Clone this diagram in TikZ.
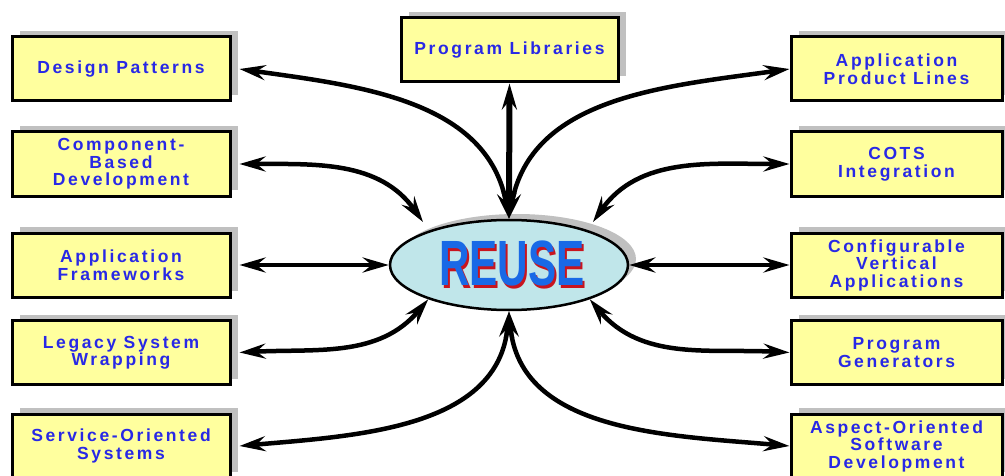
\documentclass[tikz,border=0pt]{standalone}
\usepackage{fontspec}
\setmainfont{Liberation Sans}
\newfontfamily\topicfont{Liberation Sans}[LetterSpace=15]
\usepackage{graphicx}
\usetikzlibrary{arrows.meta, positioning, calc, shadows, shapes.geometric}
\definecolor{topicyellow}{RGB}{255, 255, 158}
\definecolor{topicblue}{RGB}{40, 40, 230}
\definecolor{shadowgray}{RGB}{192, 192, 192}
\definecolor{reusefill}{RGB}{192, 230, 234}
\definecolor{reuseblue}{RGB}{25, 105, 230}
\definecolor{reusered}{RGB}{200, 20, 30}
\newcommand{\reuseword}{\scalebox{0.66}[1]{\fontsize{64}{64}\selectfont\bfseries REUSE}}
\newcommand{\reuselogo}{\makebox[0pt][l]{\hspace{2pt}\raisebox{-2.5pt}{\color{reusered}\reuseword}}\color{reuseblue}\reuseword}
\tikzset{
  topic/.style={draw, line width=3pt, fill=topicyellow, minimum height=64pt, align=center,
    text=topicblue, font=\topicfont\bfseries\fontsize{17.5}{17.5}\selectfont,
    drop shadow={shadow xshift=8pt, shadow yshift=6pt, fill=shadowgray, opacity=1}},
  link/.style={{Stealth[length=26pt, width=15pt, inset=9pt]}-{Stealth[length=26pt, width=15pt, inset=9pt]}, line width=4.5pt},
}

\begin{document}
\begin{tikzpicture}[x=1pt, y=1pt]
  \useasboundingbox (0,0) rectangle (1005,475);
  \clip (0,0) rectangle (1005,475);

  \node[topic, minimum width=218pt] (dp)   at (121,406)   {Design Patterns};
  \node[topic, minimum width=218pt] (cbd)  at (121,311)   {Component-\\Based\\Development};
  \node[topic, minimum width=218pt] (af)   at (121,210)   {Application\\Frameworks};
  \node[topic, minimum width=218pt] (lsw)  at (121,122.5) {Legacy System\\Wrapping};
  \node[topic, minimum width=218pt] (soa)  at (121,29)    {Service-Oriented\\Systems};

  \node[topic, minimum width=217pt] (pl)   at (509.5,425) {Program Libraries};

  \node[topic, minimum width=211pt] (apl)  at (896.5,406)   {Application\\Product Lines};
  \node[topic, minimum width=211pt] (cots) at (896.5,311)   {COTS\\Integration};
  \node[topic, minimum width=211pt] (cva)  at (896.5,210)   {Configurable\\Vertical\\Applications};
  \node[topic, minimum width=211pt] (pg)   at (896.5,122.5) {Program\\Generators};
  \node[topic, minimum width=211pt] (aosd) at (896.5,29)    {Aspect-Oriented\\Software\\Development};

  \node[ellipse, draw, line width=2.5pt, fill=reusefill, minimum width=238pt, minimum height=90pt, inner sep=0pt,
    drop shadow={shadow xshift=8pt, shadow yshift=6pt, fill=shadowgray, opacity=1}] (reuse) at (509,210) {};
  \node[inner sep=0pt] (reuselabel) at ([shift={(3,0)}]reuse.center) {\reuselogo};

  \coordinate (cbdend)  at ($(reuse.center)+(-86,43)$);
  \coordinate (cotsend) at ($(reuse.center)+(84,43)$);

  \draw[link, line width=6pt] (pl.south) -- (reuse.north);

  \draw[link] ([xshift=8pt]dp.east)  to[out=-8, in=100] (reuse.north);
  \draw[link] ([xshift=8pt]cbd.east) to[out=0, in=125] (cbdend);
  \draw[link] ([xshift=8pt]af.east)  -- (reuse.west);
  \draw[link] ([xshift=8pt]lsw.east) to[out=3, in=230] (reuse.203);
  \draw[link] ([xshift=8pt]soa.east) to[out=5, in=-95] (reuse.south);

  \draw[link] (reuse.north)  to[out=80, in=188] (apl.west);
  \draw[link] (cotsend)      to[out=55, in=180] (cots.west);
  \draw[link] (reuse.east)   -- (cva.west);
  \draw[link] (reuse.-23)    to[out=-50, in=177] (pg.west);
  \draw[link] (reuse.south)  to[out=-85, in=175] (aosd.west);
\end{tikzpicture}
\end{document}
